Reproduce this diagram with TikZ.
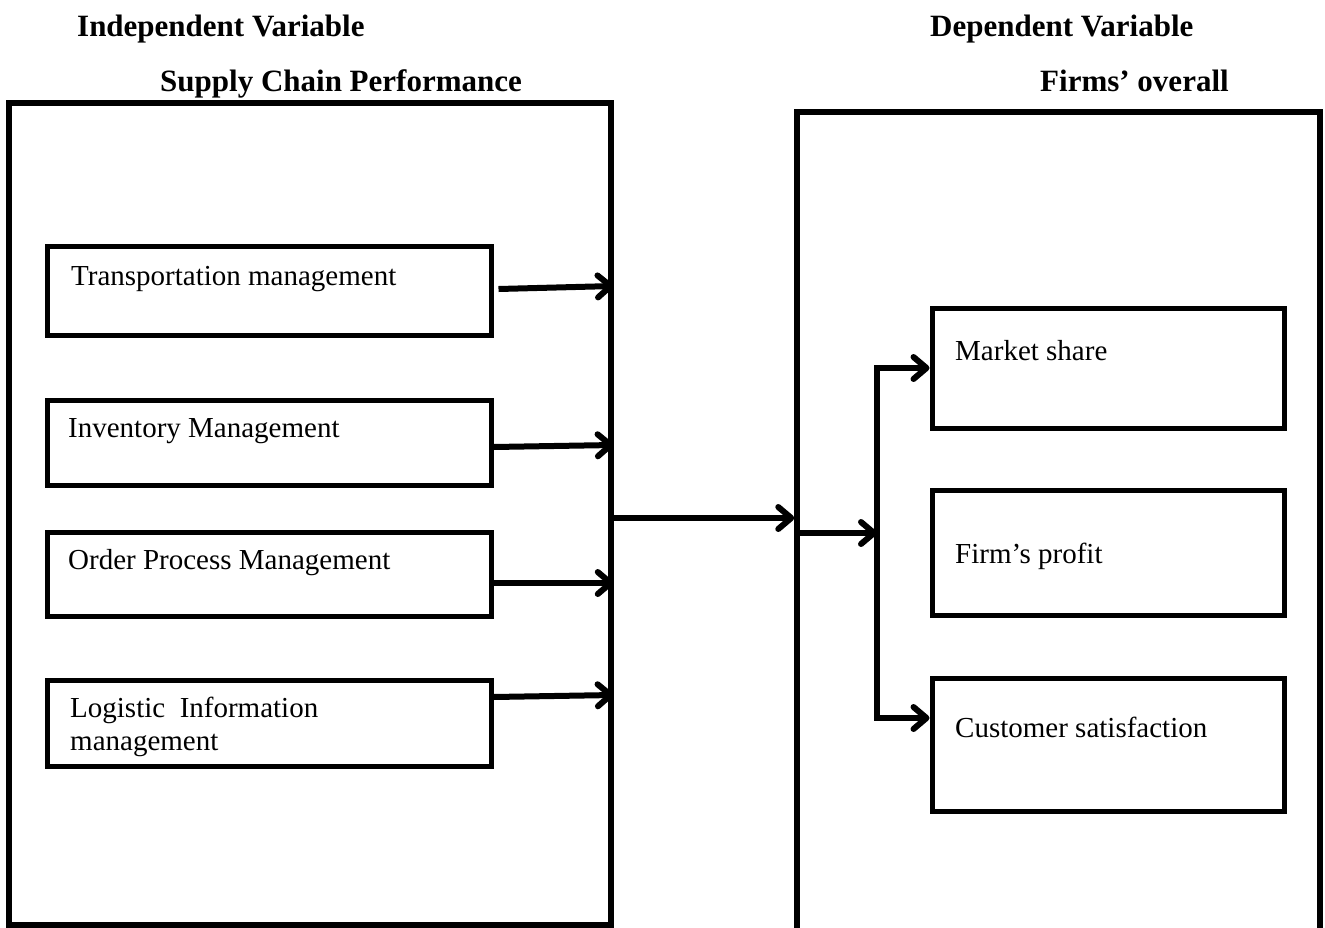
\documentclass[tikz,border=0pt]{standalone}
\usepackage{fontspec}
\setmainfont{Liberation Serif}
\usetikzlibrary{arrows.meta}
\usetikzlibrary{calc}
\usetikzlibrary{positioning}

\begin{document}
\begin{tikzpicture}[x=1pt,y=-1pt,
  frame/.style={draw,line width=5.5pt,inner sep=0pt},
  box/.style={draw,line width=5pt,inner sep=0pt},
  txt/.style={anchor=base west,inner sep=0pt,align=left,font=\fontsize{29}{33}\selectfont},
  head/.style={anchor=base west,inner sep=0pt,font=\fontsize{31}{35}\selectfont\bfseries},
  conn/.style={line width=6pt,-{Straight Barb[length=13pt,width=22pt,line join=round,line cap=round]}}]

  \useasboundingbox (0,0) rectangle (1325,927);
  \clip (0,0) rectangle (1325,927);
  \fill [white] (0,0) rectangle (1325,927);

  \node [head] (iv)   at (77,36)   {Independent Variable};
  \node [head] (scpt) at (160,91)  {Supply Chain Performance};
  \node [head] (dv)   at (930,36)  {Dependent Variable};
  \node [head] (fopt) at (1040,91) {Firms’ overall};

  \node [frame,minimum width=602pt,minimum height=822pt] (scp) at (310,514) {};
  \node [frame,minimum width=523pt,minimum height=900pt] (fop) at (1058.5,562) {};

  \node [box,minimum width=444pt,minimum height=89pt] (tm)  at (269,290.5) {};
  \node [box,minimum width=444pt,minimum height=85pt] (im)  at (269,442.5) {};
  \node [box,minimum width=444pt,minimum height=84pt] (opm) at (269,574)   {};
  \node [box,minimum width=444pt,minimum height=86pt] (lim) at (269,723)   {};

  \node [txt] (tmt)  at (71,285)  {Transportation management};
  \node [txt] (imt)  at (68,437)  {Inventory Management};
  \node [txt] (opmt) at (68,569)  {Order Process Management};
  \node [txt] (limt) at (70,750)  {Logistic\ \ Information\\management};

  \node [box,minimum width=352pt,minimum height=120pt] (ms) at (1108,368)   {};
  \node [box,minimum width=352pt,minimum height=125pt] (fp) at (1108,552.5) {};
  \node [box,minimum width=352pt,minimum height=133pt] (cs) at (1108,744.5) {};

  \node [txt] (mst) at (955,360) {Market share};
  \node [txt] (fpt) at (955,563) {Firm’s profit};
  \node [txt] (cst) at (955,737) {Customer satisfaction};

  \coordinate (hub) at (877,533);

  \path [conn]
    ($(tm.east)+(5,-1.5)$)  edge ($(scp.east |- tm.east)+(0,-4.5)$)
    ($(im.east)+(0,4.5)$)   edge ($(scp.east |- im.east)+(0,2.5)$)
    ($(opm.east)+(0,9)$)    edge ($(scp.east |- opm.east)+(0,9)$)
    ($(lim.east)+(0,-26)$)  edge ($(scp.east |- lim.east)+(0,-28)$)
    ($(scp.east)+(0,4)$)    edge ($(fop.west |- scp.east)+(0,4)$)
    (fop.west |- hub)       edge (hub);
  \draw [conn] (hub) |- (ms.west);
  \draw [conn] (hub) |- ($(cs.west)+(0,-26.5)$);
\end{tikzpicture}
\end{document}
